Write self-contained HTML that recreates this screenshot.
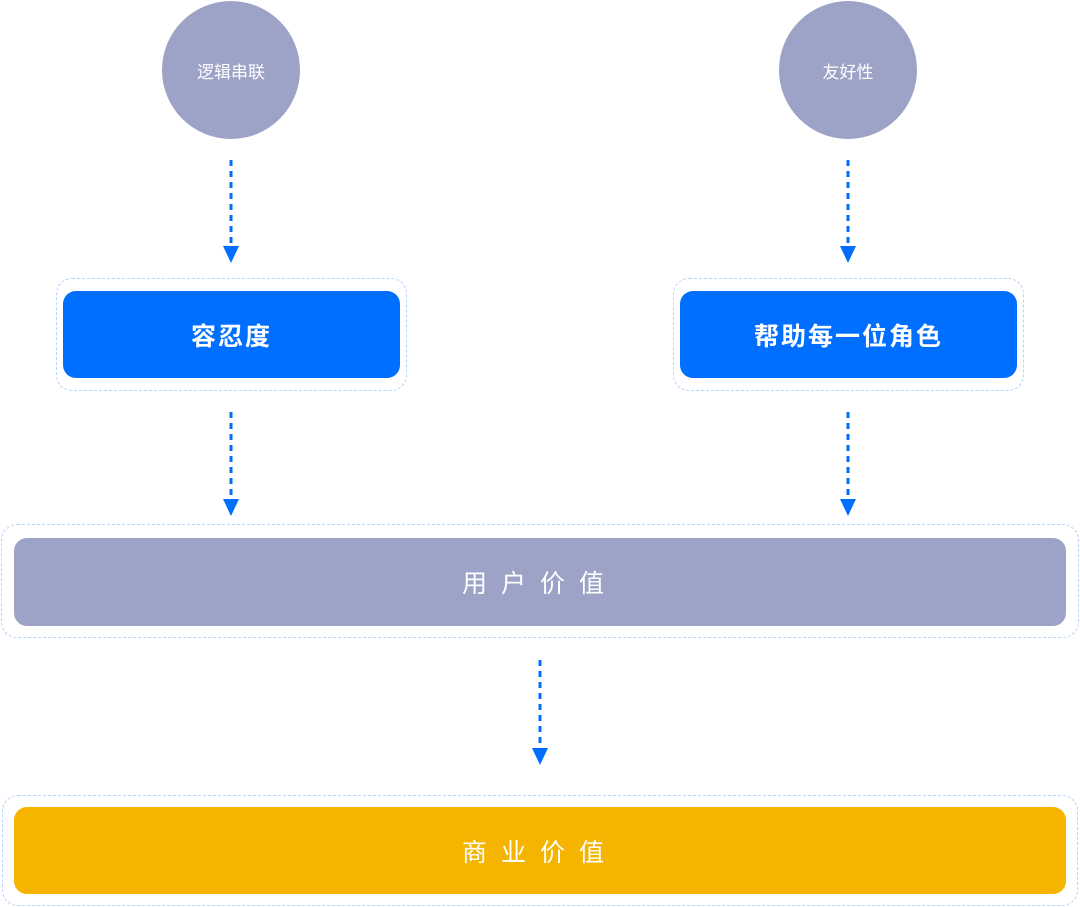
<!DOCTYPE html>
<html><head><meta charset="utf-8"><style>
body{margin:0;width:1080px;height:907px;background:#fff;overflow:hidden;position:relative;font-family:"Liberation Sans","Noto Sans CJK SC",sans-serif}
.a{position:absolute;box-sizing:border-box}
.o{border:1px dashed #b5d3fb}
.t{display:flex;align-items:center;justify-content:center;color:#fff}
</style></head><body>
<div class="a t" style="left:162px;top:1px;width:138px;height:138px;border-radius:50%;background:#9da3c7;font-size:17px">逻辑串联</div>
<div class="a t" style="left:779px;top:1px;width:138px;height:138px;border-radius:50%;background:#9da3c7;font-size:17px">友好性</div>

<div class="a o" style="left:56px;top:278px;width:351px;height:113px;border-radius:16px"></div>
<div class="a t" style="left:63px;top:291px;width:337px;height:87px;border-radius:13px;background:#006fff;font-size:25px;font-weight:bold;letter-spacing:2px">容忍度</div>
<div class="a o" style="left:673px;top:278px;width:351px;height:113px;border-radius:16px"></div>
<div class="a t" style="left:680px;top:291px;width:337px;height:87px;border-radius:13px;background:#006fff;font-size:25px;font-weight:bold;letter-spacing:2px">帮助每一位角色</div>

<div class="a o" style="left:1px;top:524px;width:1078px;height:114px;border-radius:16px"></div>
<div class="a t" style="left:14px;top:538px;width:1052px;height:88px;border-radius:13px;background:#9da3c7;font-size:25px;letter-spacing:14px">用户价值</div>
<div class="a o" style="left:2px;top:795px;width:1076px;height:111px;border-radius:16px"></div>
<div class="a t" style="left:14px;top:807px;width:1052px;height:87px;border-radius:13px;background:#f5b400;font-size:25px;letter-spacing:14px">商业价值</div>

<svg class="a" style="left:0;top:0" width="1080" height="907">
<g stroke="#006fff" stroke-width="3" stroke-dasharray="6,5" fill="none">
<line x1="231" y1="160" x2="231" y2="246"/>
<line x1="848" y1="160" x2="848" y2="246"/>
<line x1="231" y1="412" x2="231" y2="499"/>
<line x1="848" y1="412" x2="848" y2="499"/>
<line x1="540" y1="660" x2="540" y2="748"/>
</g>
<g fill="#006fff">
<polygon points="223,246 239,246 231,263"/>
<polygon points="840,246 856,246 848,263"/>
<polygon points="223,499 239,499 231,516"/>
<polygon points="840,499 856,499 848,516"/>
<polygon points="532,748 548,748 540,765"/>
</g>
</svg>
</body></html>
